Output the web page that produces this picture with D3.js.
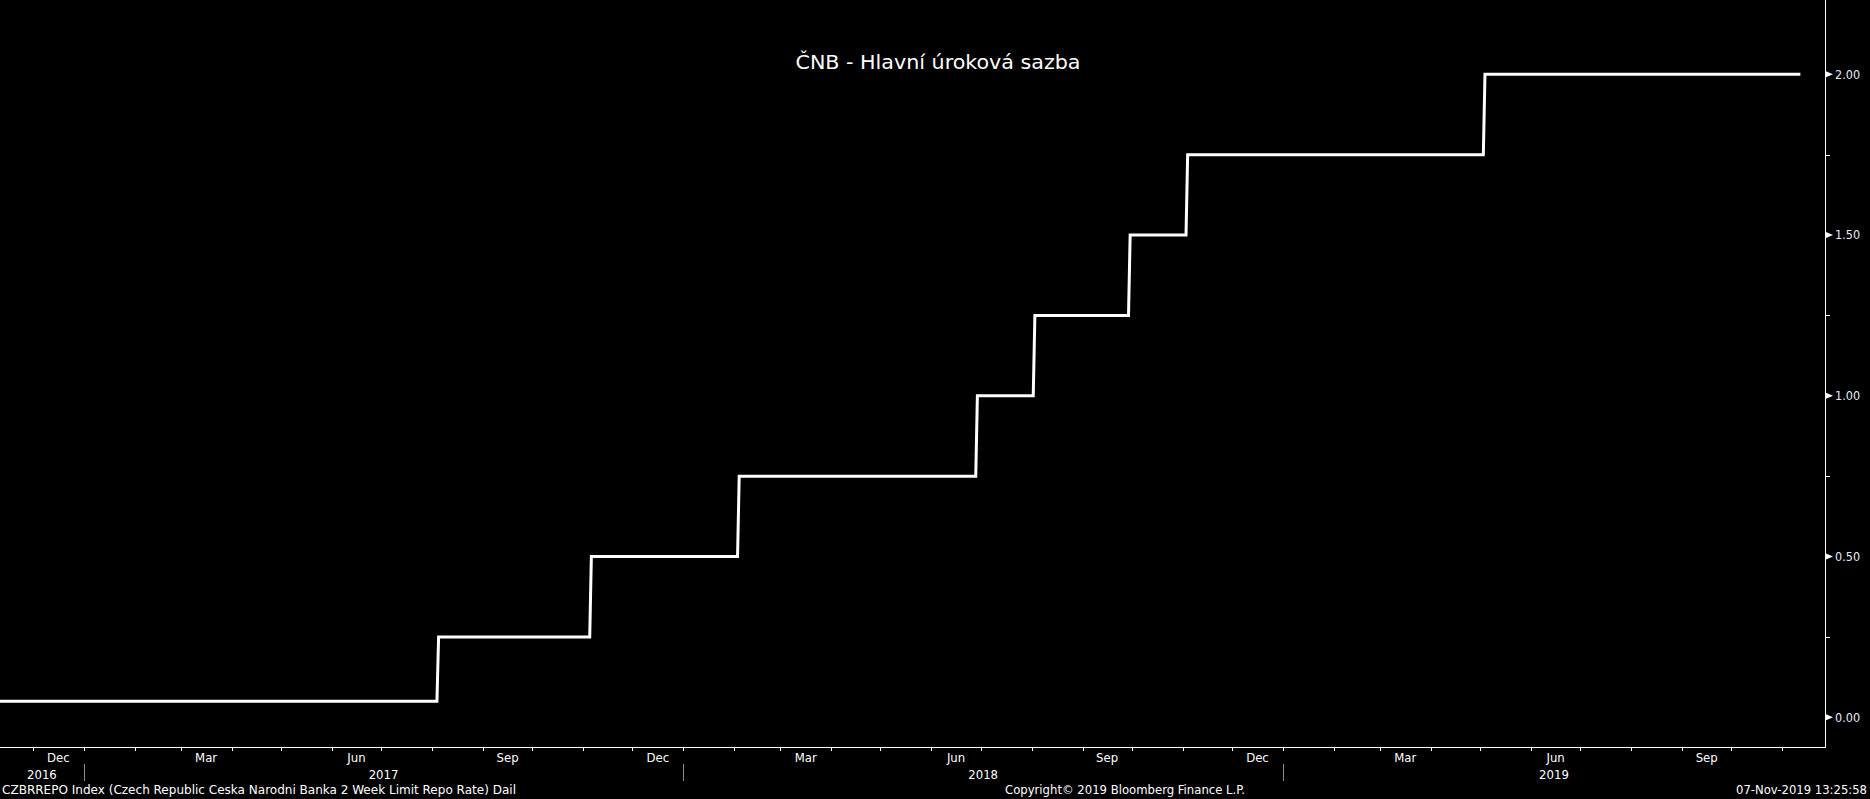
<!DOCTYPE html>
<html><head><meta charset="utf-8">
<script src="https://cdn.jsdelivr.net/npm/d3@7"></script>
<style>html,body{margin:0;padding:0;background:#000;overflow:hidden}</style>
</head><body>
<svg id="chart" width="1870" height="799"></svg>
<script>
// ---- data ----
const chartTitle = "ČNB - Hlavní úroková sazba";
const seriesStart = "2016-11-11";
const changeDates = ["2017-08-05", "2017-11-06", "2018-02-04", "2018-06-29", "2018-08-03", "2018-09-30", "2018-11-04", "2019-05-04"];
const startValue = 0.05;
const changeValues = [0.25, 0.50, 0.75, 1.00, 1.25, 1.50, 1.75, 2.00];
const seriesEnd = "2019-11-12";
const axisStart = "2016-11-11";
const axisEnd = "2019-11-27";
const yMajorTicks = [0, 0.5, 1.0, 1.5, 2.0];
const yMinorTicks = [0.25, 0.75, 1.25, 1.75];
const labelMonths = ["Dec", "Mar", "Jun", "Sep"];
const footerLeft = "CZBRREPO Index (Czech Republic Ceska Narodni Banka 2 Week Limit Repo Rate)  Dail";
const footerMid = "Copyright\u00A9 2019 Bloomberg Finance L.P.";
const footerRight = "07-Nov-2019 13:25:58";

// ---- layout ----
const W = 1870, H = 799;
const plotRight = 1825, plotBottom = 747.5;
const FONT = "Tahoma, 'DejaVu Sans Condensed', 'Liberation Sans Narrow', 'DejaVu Sans', sans-serif";
const parse = d3.timeParse("%Y-%m-%d");

const svg = d3.select("#chart");
svg.append("rect").attr("width", W).attr("height", H).attr("fill", "#000");

const x = d3.scaleTime().domain([parse(axisStart), parse(axisEnd)]).range([0, plotRight]);
const y = d3.scaleLinear().domain([0, 2]).range([717.3, 74.3]);

// build series points (day before change at old value, change day at new value)
const pts = [{d: parse(seriesStart), v: startValue}];
let prev = startValue;
changeDates.forEach((ds, i) => {
  const d = parse(ds);
  pts.push({d: d3.timeDay.offset(d, -1), v: prev});
  pts.push({d: d, v: changeValues[i]});
  prev = changeValues[i];
});
pts.push({d: parse(seriesEnd), v: prev});

svg.append("clipPath").attr("id", "clip").append("rect")
  .attr("x", 0).attr("y", 0).attr("width", plotRight).attr("height", plotBottom);

svg.append("path")
  .datum(pts)
  .attr("clip-path", "url(#clip)")
  .attr("fill", "none")
  .attr("stroke", "#fff")
  .attr("stroke-width", 3)
  .attr("stroke-linejoin", "miter")
  .attr("d", d3.line().x(p => x(p.d)).y(p => y(p.v)));

// frame lines
svg.append("line").attr("x1", plotRight + 0.5).attr("x2", plotRight + 0.5)
  .attr("y1", 0).attr("y2", plotBottom).attr("stroke", "#fff").attr("stroke-width", 1);
svg.append("line").attr("x1", 0).attr("x2", plotRight + 1)
  .attr("y1", plotBottom).attr("y2", plotBottom).attr("stroke", "#fff").attr("stroke-width", 1);

// right axis
const gy = svg.append("g");
yMajorTicks.forEach(v => {
  const yy = y(v);
  gy.append("path")
    .attr("d", `M${plotRight + 1},${yy - 3} L${plotRight + 8},${yy} L${plotRight + 1},${yy + 3} Z`)
    .attr("fill", "#fff");
  gy.append("text")
    .attr("x", plotRight + 10).attr("y", yy).attr("dy", "0.35em")
    .attr("fill", "#e4ecf6").attr("font-family", FONT).attr("font-size", 12.5)
    .text(d3.format(".2f")(v));
});
yMinorTicks.forEach(v => {
  const yy = Math.round(y(v)) + 0.5;
  gy.append("line").attr("x1", plotRight + 1).attr("x2", plotRight + 5)
    .attr("y1", yy).attr("y2", yy).attr("stroke", "#fff").attr("stroke-width", 1);
});

// bottom axis
const gx = svg.append("g");
const [d0, d1] = x.domain();
const months = d3.timeMonth.range(d3.timeMonth.ceil(d0), d1);
months.forEach(m => {
  const xx = Math.round(x(m)) + 0.5;
  gx.append("line").attr("x1", xx).attr("x2", xx).attr("y1", plotBottom).attr("y2", plotBottom + 3.5)
    .attr("stroke", "#fff").attr("stroke-width", 1);
});
const fmtMonth = d3.timeFormat("%b");
d3.timeMonth.range(d3.timeMonth.floor(d0), d1).forEach(m => {
  const name = fmtMonth(m);
  if (!labelMonths.includes(name)) return;
  const xa = Math.max(0, x(m)), xb = Math.min(plotRight, x(d3.timeMonth.offset(m, 1)));
  gx.append("text").attr("x", (xa + xb) / 2).attr("y", 762)
    .attr("text-anchor", "middle").attr("fill", "#fff")
    .attr("font-family", FONT).attr("font-size", 13).text(name);
});
const years = d3.timeYear.range(d3.timeYear.floor(d0), d1);
years.forEach(yr => {
  const xs = x(yr);
  if (xs > 0) {
    gx.append("line").attr("x1", Math.round(xs) + 0.5).attr("x2", Math.round(xs) + 0.5)
      .attr("y1", 764).attr("y2", 781).attr("stroke", "#8c8c8c").attr("stroke-width", 1);
  }
  const xa = Math.max(0, xs), xb = Math.min(plotRight, x(d3.timeYear.offset(yr, 1)));
  gx.append("text").attr("x", (xa + xb) / 2).attr("y", 778.5)
    .attr("text-anchor", "middle").attr("fill", "#fff")
    .attr("font-family", FONT).attr("font-size", 13).text(d3.timeFormat("%Y")(yr));
});

// title
svg.append("text").attr("x", 795.5).attr("y", 69)
  .attr("fill", "#fff").attr("font-family", FONT).attr("font-size", 19.5)
  .attr("textLength", 285).attr("lengthAdjust", "spacingAndGlyphs")
  .text(chartTitle);

// footer
svg.append("text").attr("x", 2).attr("y", 794).attr("fill", "#fff")
  .attr("font-family", FONT).attr("font-size", 12.5)
  .attr("textLength", 514).attr("lengthAdjust", "spacingAndGlyphs").text(footerLeft);
svg.append("text").attr("x", 1005).attr("y", 794).attr("fill", "#fff")
  .attr("font-family", FONT).attr("font-size", 12.5)
  .attr("textLength", 240).attr("lengthAdjust", "spacingAndGlyphs").text(footerMid);
svg.append("text").attr("x", 1736).attr("y", 794).attr("fill", "#fff")
  .attr("font-family", FONT).attr("font-size", 12.5)
  .attr("textLength", 131).attr("lengthAdjust", "spacingAndGlyphs").text(footerRight);
</script>
</body></html>
